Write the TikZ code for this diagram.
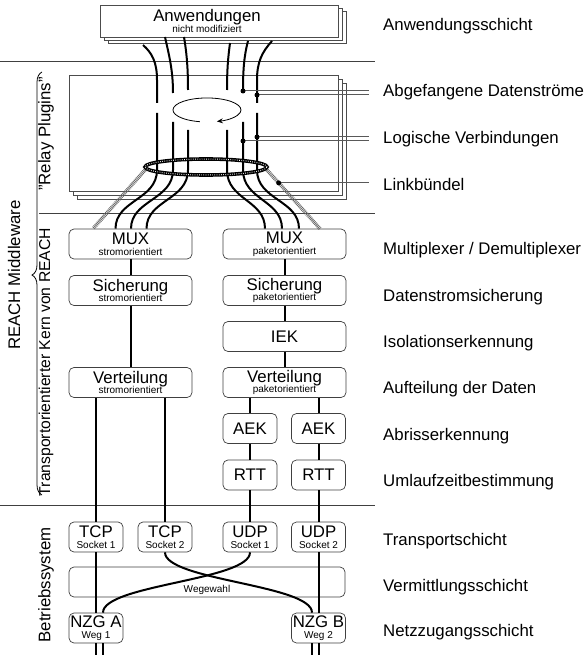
\documentclass[tikz,border=0pt]{standalone}
\usepackage{fontspec}
\setmainfont{Liberation Sans}
\usetikzlibrary{decorations.pathreplacing,arrows.meta,calc}
\newcommand\mybig{\fontsize{16.8}{16.8}\selectfont\lineskiplimit=-50pt }
\newcommand\mysmall{\fontsize{10}{11}\selectfont}
\begin{document}
\begin{tikzpicture}[x=1pt,y=-1pt,
  sep/.style={draw=black!75, line width=0.8pt},
  stackbox/.style={draw=black!70, line width=0.7pt, fill=white},
  rbox/.style={draw=black!75, line width=0.7pt, rounded corners=5pt, fill=white, inner sep=0pt, align=center, font=\mybig, minimum height=30pt},
  wide/.style={rbox, minimum width=123pt},
  narrow/.style={rbox, minimum width=54pt},
  conn/.style={draw=black, line width=2pt},
  stream/.style={draw=black, line width=2pt},
  hatch/.style={line width=3.6pt, black!60, dash pattern=on 0.8pt off 0.8pt},
  legend/.style={draw=black!65, line width=1pt},
  lbl/.style={anchor=base west, font=\mybig, inner sep=0pt},
  dotm/.style={circle, fill=black, inner sep=0pt, minimum size=5pt},
  side/.style={rotate=90, font=\mybig, inner sep=0pt},
]
\useasboundingbox (0,0) rectangle (586,655);

% separators
\draw[sep] (0,61) -- (375,61);
\draw[sep] (39,213) -- (375,213);
\draw[sep] (0,505) -- (375,505);

% Anwendungen stack
\draw[stackbox] (108,11) rectangle (346,43);
\draw[stackbox] (104,8) rectangle (342,40);
\node[stackbox, minimum width=238pt, minimum height=32pt, inner sep=0pt] (appbox) at (219,21) {};
\node[font=\mybig, align=center, inner sep=0pt] (apptext) at (207,21) {Anwendungen\\[-6pt]{\mysmall nicht modifiziert}};

% Relay stack
\draw[stackbox] (77,83) rectangle (346,199);
\draw[stackbox] (73,79) rectangle (342,195);
\node[stackbox, minimum width=269pt, minimum height=116pt, inner sep=0pt] (relay) at (203.5,133) {};

% streams, upper parts
\draw[stream] (143,45) .. controls (152,53) and (157,62) .. (157,80) -- (157,103);
\draw[stream] (165,37) .. controls (169,55) and (173,70) .. (173,93);
\draw[stream] (184,37) .. controls (187,55) and (188,70) .. (188,90);
\draw[stream] (230,43) .. controls (228,58) and (227,70) .. (227,90);
\draw[stream] (248,41) .. controls (244,56) and (243,70) .. (243,92);
\draw[stream] (272,41) .. controls (262,52) and (257,62) .. (257,80) -- (257,103);

% loop
\draw[line width=0.8pt, -{Stealth[length=6pt,width=5pt]}] (199.9,121.7) arc[start angle=258, end angle=-73, x radius=34pt, y radius=12pt];

% lower nodes
\node[wide] (mux1) at (130.5,244) {MUX\\[-6pt]{\mysmall stromorientiert}};
\node[wide] (mux2) at (284.5,244) {MUX\\[-6pt]{\mysmall paketorientiert}};
\node[wide] (sich1) at (130.5,290.5) {Sicherung\\[-6pt]{\mysmall stromorientiert}};
\node[wide] (sich2) at (284.5,290.5) {Sicherung\\[-6pt]{\mysmall paketorientiert}};
\node[wide] (iek) at (284.5,336.5) {IEK};
\node[wide] (vert1) at (130.5,382.5) {Verteilung\\[-6pt]{\mysmall stromorientiert}};
\node[wide] (vert2) at (284.5,382.5) {Verteilung\\[-6pt]{\mysmall paketorientiert}};
\node[narrow] (aek1) at (250,428.5) {AEK};
\node[narrow] (aek2) at (318.5,428.5) {AEK};
\node[narrow] (rtt1) at (250,475) {RTT};
\node[narrow] (rtt2) at (318.5,475) {RTT};
\node[narrow] (tcp1) at (96,537) {TCP\\[-6pt]{\mysmall Socket 1}};
\node[narrow] (tcp2) at (165,537) {TCP\\[-6pt]{\mysmall Socket 2}};
\node[narrow] (udp1) at (250,537) {UDP\\[-6pt]{\mysmall Socket 1}};
\node[narrow] (udp2) at (318.5,537) {UDP\\[-6pt]{\mysmall Socket 2}};
\node[rbox, minimum width=276pt] (weg) at (207,582) {};
\node[font=\mysmall, anchor=base, inner sep=0pt] (wegt) at (207,592) {Wegewahl};
\node[narrow] (nzga) at (96,628) {NZG A\\[-6pt]{\mysmall Weg 1}};
\node[narrow] (nzgb) at (318.5,628) {NZG B\\[-6pt]{\mysmall Weg 2}};

% streams, lower parts
\draw[stream] (157,113) -- (157,170) .. controls (157,200) and (115.5,200) .. (mux1.north -| 115.5,0);
\draw[stream] (173,122) -- (173,170) .. controls (173,200) and (131,200) .. (mux1.north -| 131,0);
\draw[stream] (188,130) -- (188,170) .. controls (188,200) and (146.5,200) .. (mux1.north -| 146.5,0);
\draw[stream] (227,130) -- (227,170) .. controls (227,200) and (265,200) .. (mux2.north -| 265,0);
\draw[stream] (243,122) -- (243,170) .. controls (243,200) and (282,200) .. (mux2.north -| 282,0);
\draw[stream] (257,113) -- (257,170) .. controls (257,200) and (299,200) .. (mux2.north -| 299,0);

% link bundle
\draw[line width=3.6pt] (206,167) ellipse [x radius=61pt, y radius=8pt];
\draw[white, line width=1pt, dash pattern=on 0.7pt off 1.5pt] (206,167) ellipse [x radius=61pt, y radius=8pt];
\coordinate (hl1) at (145,170);
\coordinate (hl2) at (267,170);
\draw[hatch] (hl1) -- (mux1.north -| 93,0);
\draw[hatch] (hl2) -- (mux2.north -| 320,0);

% dots and legend lines
\coordinate (legx) at (369,0);
\coordinate (d1) at (243,91);
\coordinate (d2) at (257,95);
\coordinate (d3) at (243,141);
\coordinate (d4) at (257,137);
\coordinate (d5) at ($(hl2)!0.22!(mux2.north -| 320,0)$);
\draw[legend] (d1) -- (d1 -| legx);
\draw[legend] (d2) -- (d2 -| legx);
\draw[legend] (d3) -- (d3 -| legx);
\draw[legend] (d4) -- (d4 -| legx);
\draw[legend] (d5) -- (d5 -| legx);
\node[dotm] (dd1) at (d1) {};
\node[dotm] (dd2) at (d2) {};
\node[dotm] (dd3) at (d3) {};
\node[dotm] (dd4) at (d4) {};
\node[dotm] (dd5) at (d5) {};

% connectors
\draw[conn] (mux1.south) -- (sich1.north);
\draw[conn] (sich1.south) -- (vert1.north);
\draw[conn] (mux2.south) -- (sich2.north);
\draw[conn] (sich2.south) -- (iek.north);
\draw[conn] (iek.south) -- (vert2.north);
\draw[conn] (vert1.south -| tcp1.north) -- (tcp1.north);
\draw[conn] (vert1.south -| tcp2.north) -- (tcp2.north);
\draw[conn] (vert2.south -| aek1.north) -- (aek1.north);
\draw[conn] (vert2.south -| aek2.north) -- (aek2.north);
\draw[conn] (aek1.south) -- (rtt1.north);
\draw[conn] (aek2.south) -- (rtt2.north);
\draw[conn] (rtt1.south) -- (udp1.north);
\draw[conn] (rtt2.south) -- (udp2.north);
\draw[conn] (tcp1.south) -- (nzga.north);
\draw[conn] (udp2.south) -- (nzgb.north);
\draw[conn] (tcp2.south) .. controls +(0,28) and +(0,-28) .. ($(nzgb.north)+(-6.5,0)$);
\draw[conn] (udp1.south) .. controls +(0,28) and +(0,-28) .. ($(nzga.north)+(7,0)$);
\coordinate (ba1) at (96,656);
\coordinate (ba2) at (103,656);
\coordinate (bb1) at (312,656);
\coordinate (bb2) at (318.5,656);
\draw[conn] (nzga.south) -- (ba1);
\draw[conn] ($(nzga.south)+(7,0)$) -- (ba2);
\draw[conn] ($(nzgb.south)+(-6.5,0)$) -- (bb1);
\draw[conn] (nzgb.south) -- (bb2);

% brace and side texts
\draw[decorate, decoration={brace, amplitude=10pt, aspect=0.52}, line width=0.8pt] (42,495) -- (42,72);
\node[side] (rm) at (14,275) {REACH Middleware};
\node[side] (rp) at (46,134) {"Relay Plugins"};
\node[side, font=\fontsize{15.7}{16}\selectfont] (tk) at (46,362) {Transportorientierter Kern von REACH};
\node[side] (bs) at (46,585) {Betriebssystem};

% right labels
\node[lbl] (l1) at (383,31) {Anwendungsschicht};
\node[lbl] (l2) at (383,97) {Abgefangene Datenströme};
\node[lbl] (l3) at (383,144) {Logische Verbindungen};
\node[lbl] (l4) at (383,190) {Linkbündel};
\node[lbl] (l5) at (383,254) {Multiplexer / Demultiplexer};
\node[lbl] (l6) at (383,301) {Datenstromsicherung};
\node[lbl] (l7) at (383,347) {Isolationserkennung};
\node[lbl] (l8) at (383,393) {Aufteilung der Daten};
\node[lbl] (l9) at (383,440) {Abrisserkennung};
\node[lbl] (l10) at (383,486) {Umlaufzeitbestimmung};
\node[lbl] (l11) at (383,545) {Transportschicht};
\node[lbl] (l12) at (383,591) {Vermittlungsschicht};
\node[lbl] (l13) at (383,636) {Netzzugangsschicht};
\end{tikzpicture}
\end{document}
